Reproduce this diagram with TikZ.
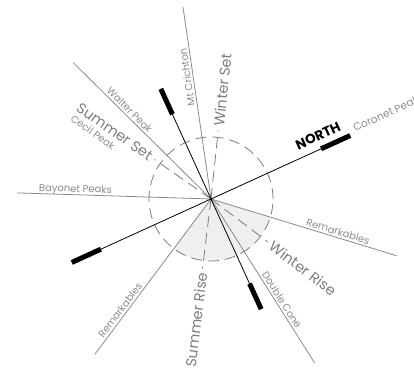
\documentclass[tikz,border=0pt]{standalone}
\usepackage{fontspec}
\setmainfont{Poppins}
\definecolor{lgray}{HTML}{8A8A8A}
\definecolor{tgray}{HTML}{8C8C8C}
\definecolor{sgray}{HTML}{7E7E7E}
\definecolor{sectorgray}{HTML}{EFEFEF}
\begin{document}
\begin{tikzpicture}[x=1pt,y=1pt,
  peak/.style={draw=lgray, line width=0.8pt},
  peaklabel/.style={text=tgray, font=\fontsize{10}{12}\selectfont, inner sep=0pt, text depth=0pt},
  sunline/.style={draw=sgray, line width=0.8pt, dash pattern=on 11pt off 6pt},
  sunlabel/.style={text=sgray, font=\fontsize{14.5}{16}\selectfont, inner sep=0pt},
  axisline/.style={draw=black, line width=0.8pt},
  barline/.style={draw=black, line width=5pt},
]
\useasboundingbox (0,0) rectangle (414,372);
\clip (0,0) rectangle (414,372);
\coordinate (C) at (211,173);
% shaded sector
\fill[sectorgray] (C) -- ++(-126.8:62) arc[start angle=-126.8, end angle=-17, radius=62] -- cycle;
% end points of the peak lines
\path (C) ++(135.3:194) coordinate (wp);
\path (C) ++(98.3:194) coordinate (mc);
\path (C) ++(178.2:194) coordinate (bp);
\path (C) ++(-17:194) coordinate (rr);
\path (C) ++(-57.7:194) coordinate (dc);
\path (C) ++(-126.8:194) coordinate (rl);
% peak lines
\draw[peak] (C) -- (wp) node[peaklabel, pos=0.62, sloped, above=2pt] {Walter Peak};
\draw[peak] (C) -- (mc) node[peaklabel, pos=0.64, sloped, allow upside down, above=2pt] {Mt Crichton};
\draw[peak] (C) -- (bp) node[peaklabel, pos=0.70, sloped, above=2pt] {Bayonet Peaks};
\draw[peak] (C) -- (rr) node[peaklabel, pos=0.675, sloped, above=2pt] {Remarkables};
\draw[peak] (C) -- (dc) node[peaklabel, pos=0.635, sloped, above=2pt] {Double Cone};
\draw[peak] (C) -- (rl) node[peaklabel, pos=0.74, sloped, above=2pt] {Remarkables};
% sun lines
\path (C) ++(84:69) coordinate (ws);
\path (C) ++(145:69) coordinate (ss);
\path (C) ++(-97:70) coordinate (sr);
\path (C) ++(-37:71) coordinate (wr);
\draw[sunline] (C) -- (ws);
\draw[sunline] (C) -- (ss);
\draw[sunline] (C) -- (sr);
\draw[sunline] (C) -- (wr);
\draw[sgray, line width=0.8pt, dash pattern=on 11pt off 6pt] (C) circle[radius=62];
\path (C) ++(84:73) node[sunlabel, rotate=84, anchor=west] (wst) {Winter Set};
\path (C) ++(145:73) node[sunlabel, rotate=-35, anchor=east] (sst) {Summer Set};
\path (C) ++(-97:74) node[sunlabel, rotate=83, anchor=east] (srt) {Summer Rise};
\path (C) ++(-37:75) node[sunlabel, rotate=-37, anchor=west] (wrt) {Winter Rise};
% compass axes
\path (C) ++(114.5:121) coordinate (a1) ++(-65.5:28) coordinate (a2);
\path (C) ++(-65.5:121) coordinate (a3) ++(114.5:28) coordinate (a4);
\path (C) ++(24.5:153) coordinate (b1) ++(204.5:32) coordinate (b2);
\path (C) ++(204.5:153) coordinate (b3) ++(24.5:32) coordinate (b4);
\draw[axisline] (a1) -- (a3);
\draw[axisline] (b1) -- (b3);
\draw[barline] (a1) -- (a2);
\draw[barline] (a3) -- (a4);
\draw[barline] (b1) -- (b2);
\draw[barline] (b3) -- (b4);
% labels
\path (C) ++(24.5:123.5) ++(114.5:13) node[rotate=24.5, font=\fontsize{13.5}{15}\bfseries\selectfont, inner sep=0pt] (north) {NORTH};
\path (C) ++(24.5:159) ++(114.5:1) node[peaklabel, font=\fontsize{10.5}{12}\selectfont, rotate=24.5, anchor=south west] (cp) {Coronet Peak};
\node[peaklabel, rotate=-35.4] (cecil) at (93,240) {Cecil Peak};
\end{tikzpicture}
\end{document}
